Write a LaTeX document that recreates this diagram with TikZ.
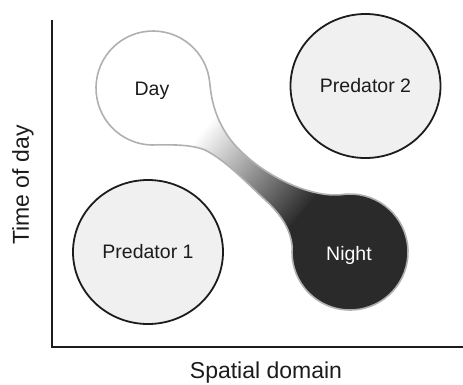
\documentclass[tikz,border=0pt]{standalone}
\usepackage{fontspec}
\setmainfont{Liberation Sans}
\usepackage{tikz}
\usetikzlibrary{shapes.geometric,calc}
\definecolor{predfill}{RGB}{240,240,240}
\definecolor{nightfill}{RGB}{42,42,42}
\definecolor{blobedge}{RGB}{176,176,176}
\definecolor{ink}{RGB}{28,28,28}

\begin{document}
\begin{tikzpicture}[x=1pt,y=-1pt,semithick]
\tikzstyle{predator}=[ellipse,draw=ink,line width=1.8pt,fill=predfill,minimum width=150pt,minimum height=144pt,inner sep=0pt]
\tikzstyle{txt}=[text=ink,font=\fontsize{19.5}{23}\selectfont]
\tikzstyle{axistxt}=[text=ink,font=\fontsize{23}{27}\selectfont]
\useasboundingbox (0,0) rectangle (463,384);

\coordinate (origin) at (52,347);
\coordinate (ytop) at (52,20);
\coordinate (xend) at (463,347);
\coordinate (dayc) at (153,88);
\coordinate (nightc) at (350,252);
\coordinate (mid) at (253,171);

% day bulb, neck and night bulb as one outline
\def\blob{($(dayc)+(85:57)$) arc[start angle=85,end angle=355,radius=57]
  .. controls (212,110) and (222,135) .. (245,155)
  .. controls (270,178) and (312,198) .. ($(nightc)+(262:58)$)
  arc[start angle=262,end angle=545,radius=58]
  .. controls (290.5,228) and (280,213) .. (262,197)
  .. controls (245,181) and (225,160) .. (205,150)
  .. controls (190,144) and (170,145) .. cycle}

\draw[line width=1.3pt,ink] (ytop) -- (origin) -- (xend);

\node[predator,txt] (pred1) at (148,252) {Predator 1};
\node[predator,txt] (pred2) at (365.5,86) {Predator 2};

\begin{scope}
\clip \blob;
\begin{scope}[transform canvas={rotate around={-39.8:(mid)}}]
\fill[white] (-50,21) rectangle (189,321);
\shade[left color=white,right color=nightfill] (188,21) rectangle (318,321);
\fill[nightfill] (317,21) rectangle (560,321);
\end{scope}
\end{scope}
\draw[blobedge,line width=1.6pt] \blob;

\node[txt] (day) at (152,91) {Day};
\node[txt,text=white] (night) at (349,255) {Night};

\node[axistxt] (xlab) at (266,373) {Spatial domain};
\node[axistxt,rotate=90] (ylab) at (23,185) {Time of day};
\end{tikzpicture}
\end{document}
